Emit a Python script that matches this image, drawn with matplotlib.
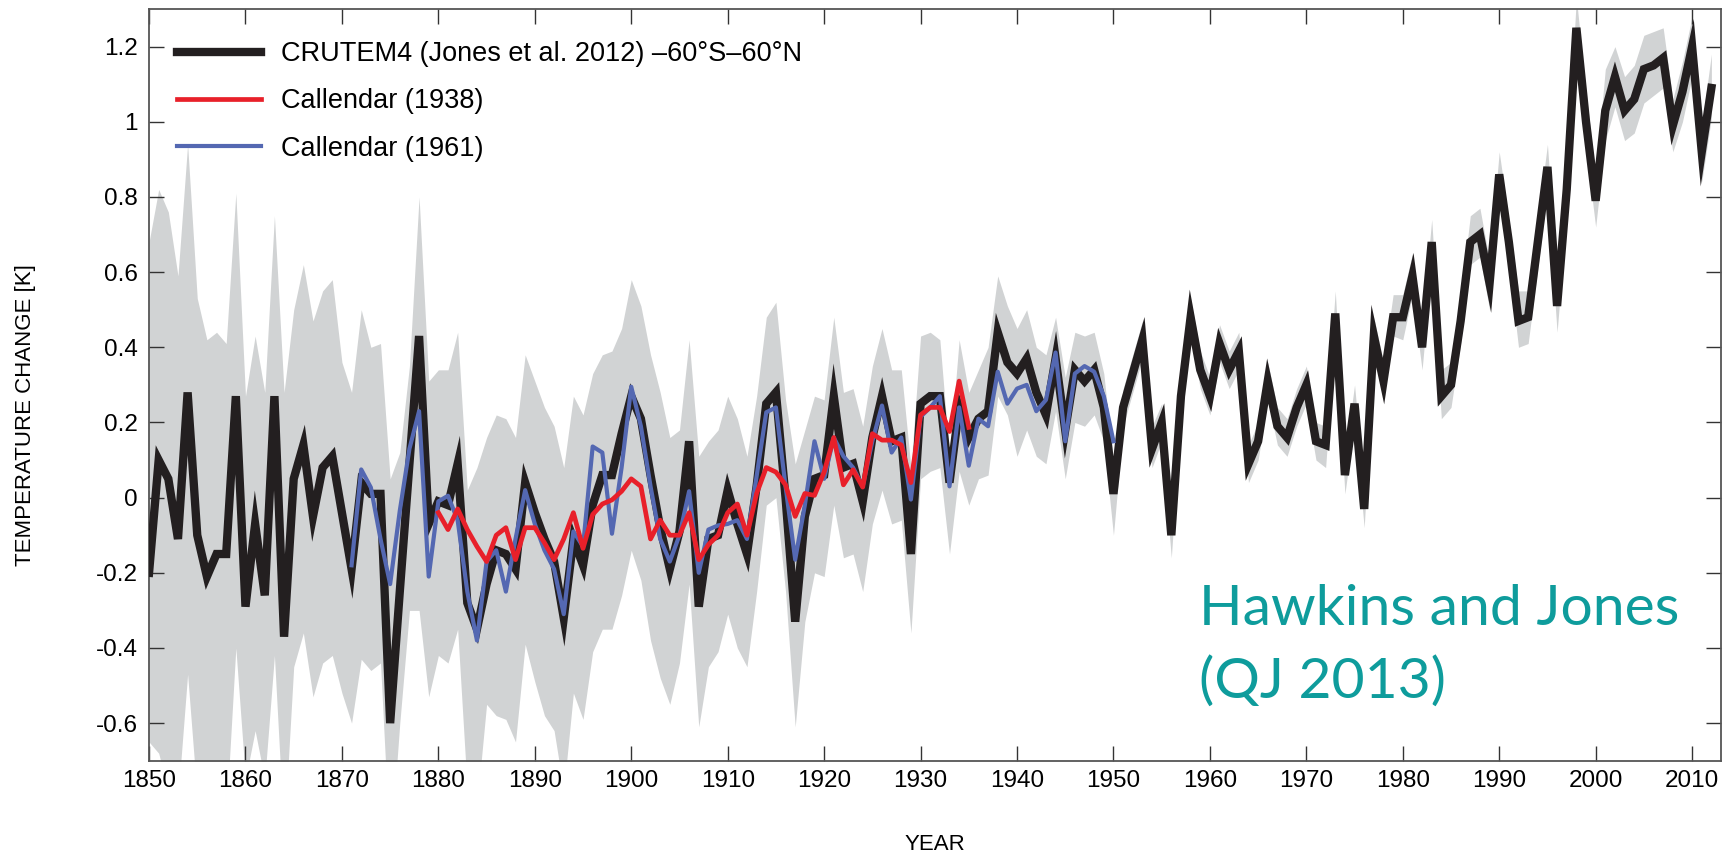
import numpy as np
import matplotlib
matplotlib.use("Agg")
import matplotlib.pyplot as plt

# CRUTEM4 annual anomaly (K), 1850-2012
years = np.arange(1850, 2013)
crutem4 = [
    -0.20, 0.10, 0.05, -0.11, 0.28, -0.10, -0.21, -0.15, -0.15, 0.27,   # 1850s
    -0.29, -0.07, -0.26, 0.27, -0.37, 0.05, 0.14, -0.05, 0.08, 0.11,    # 1860s
    -0.04, -0.19, 0.04, 0.01, 0.01, -0.60, -0.25, 0.09, 0.43, -0.07,    # 1870s
    -0.01, -0.02, 0.09, -0.28, -0.35, -0.23, -0.14, -0.15, -0.19, 0.04, # 1880s
    -0.04, -0.11, -0.17, -0.32, -0.11, -0.18, -0.02, 0.06, 0.06, 0.17,  # 1890s
    0.27, 0.21, 0.06, -0.08, -0.19, -0.09, 0.15, -0.29, -0.11, -0.10,   # 1900s
    0.02, -0.07, -0.15, 0.03, 0.25, 0.28, 0.00, -0.33, -0.05, 0.05,     # 1910s
    0.06, 0.27, 0.08, 0.09, -0.01, 0.16, 0.27, 0.15, 0.16, -0.15,       # 1920s
    0.25, 0.27, 0.27, 0.04, 0.24, 0.16, 0.21, 0.23, 0.44, 0.36,         # 1930s
    0.33, 0.37, 0.28, 0.22, 0.37, 0.18, 0.34, 0.31, 0.34, 0.24,         # 1940s
    0.01, 0.24, 0.33, 0.42, 0.13, 0.20, -0.10, 0.27, 0.48, 0.34,        # 1950s
    0.27, 0.41, 0.34, 0.39, 0.09, 0.15, 0.31, 0.19, 0.16, 0.24,         # 1960s
    0.30, 0.15, 0.14, 0.49, 0.06, 0.25, -0.03, 0.43, 0.31, 0.48,        # 1970s
    0.48, 0.59, 0.40, 0.68, 0.27, 0.30, 0.47, 0.68, 0.70, 0.57,         # 1980s
    0.86, 0.68, 0.47, 0.48, 0.68, 0.88, 0.51, 0.82, 1.25, 1.00,         # 1990s
    0.79, 1.03, 1.12, 1.03, 1.06, 1.14, 1.15, 1.17, 0.99, 1.08,         # 2000s
    1.20, 0.92, 1.09,                                                   # 2010-2012
]

# uncertainty range (upper / lower edge of grey band)
band_upper = [
    0.68, 0.82, 0.76, 0.59, 0.94, 0.53, 0.42, 0.44, 0.41, 0.81,
    0.27, 0.43, 0.28, 0.75, 0.28, 0.50, 0.62, 0.47, 0.55, 0.58,
    0.36, 0.28, 0.50, 0.40, 0.41, 0.05, 0.12, 0.35, 0.80, 0.31,
    0.34, 0.34, 0.44, 0.02, 0.08, 0.16, 0.22, 0.21, 0.16, 0.38,
    0.31, 0.24, 0.19, 0.08, 0.27, 0.22, 0.33, 0.38, 0.39, 0.45,
    0.58, 0.51, 0.38, 0.28, 0.16, 0.18, 0.42, 0.11, 0.15, 0.18,
    0.27, 0.21, 0.11, 0.27, 0.48, 0.52, 0.26, 0.09, 0.18, 0.27,
    0.26, 0.48, 0.28, 0.29, 0.19, 0.35, 0.45, 0.34, 0.34, 0.08,
    0.43, 0.44, 0.42, 0.11, 0.42, 0.28, 0.34, 0.40, 0.59, 0.51,
    0.45, 0.50, 0.40, 0.38, 0.48, 0.32, 0.44, 0.43, 0.44, 0.33,
    0.09, 0.29, 0.38, 0.47, 0.19, 0.25, -0.05, 0.32, 0.53, 0.39,
    0.32, 0.46, 0.39, 0.44, 0.14, 0.20, 0.36, 0.24, 0.21, 0.29,
    0.35, 0.20, 0.19, 0.55, 0.11, 0.30, 0.02, 0.48, 0.36, 0.54,
    0.54, 0.65, 0.46, 0.74, 0.34, 0.36, 0.53, 0.75, 0.77, 0.63,
    0.92, 0.74, 0.55, 0.55, 0.74, 0.94, 0.57, 0.88, 1.33, 1.08,
    0.86, 1.14, 1.20, 1.12, 1.15, 1.23, 1.24, 1.25, 1.06, 1.16,
    1.28, 0.99, 1.18,
]
band_lower = [
    -0.65, -0.68, -0.78, -0.80, -0.47, -0.80, -0.85, -0.80, -0.85, -0.40,
    -0.75, -0.62, -0.75, -0.42, -0.90, -0.45, -0.36, -0.53, -0.44, -0.42,
    -0.52, -0.60, -0.43, -0.46, -0.44, -0.95, -0.60, -0.30, -0.30, -0.53,
    -0.42, -0.44, -0.35, -0.78, -0.82, -0.55, -0.58, -0.59, -0.65, -0.39,
    -0.49, -0.58, -0.62, -0.78, -0.52, -0.59, -0.41, -0.35, -0.35, -0.26,
    -0.14, -0.22, -0.38, -0.48, -0.55, -0.44, -0.23, -0.61, -0.45, -0.41,
    -0.31, -0.40, -0.45, -0.25, -0.02, 0.00, -0.25, -0.61, -0.33, -0.20,
    -0.21, -0.02, -0.16, -0.15, -0.25, -0.07, 0.02, -0.07, -0.06, -0.36,
    0.05, 0.07, 0.08, -0.15, 0.07, -0.02, 0.05, 0.06, 0.27, 0.22,
    0.11, 0.18, 0.11, 0.09, 0.23, 0.05, 0.20, 0.19, 0.22, 0.15,
    -0.10, 0.19, 0.28, 0.37, 0.08, 0.15, -0.16, 0.22, 0.43, 0.29,
    0.22, 0.36, 0.29, 0.34, 0.04, 0.10, 0.26, 0.14, 0.11, 0.19,
    0.25, 0.10, 0.08, 0.44, 0.01, 0.20, -0.08, 0.38, 0.26, 0.43,
    0.42, 0.54, 0.34, 0.62, 0.21, 0.24, 0.41, 0.62, 0.64, 0.50,
    0.80, 0.62, 0.40, 0.41, 0.61, 0.81, 0.44, 0.75, 1.18, 0.93,
    0.72, 0.95, 1.04, 0.95, 0.97, 1.05, 1.07, 1.09, 0.92, 1.00,
    1.12, 0.84, 1.01,
]

# Callendar (1938), 1880-1935
years_c38 = np.arange(1880, 1936)
callendar_1938 = [
    -0.04, -0.085, -0.03, -0.085, -0.13, -0.17, -0.10, -0.08, -0.165, -0.08,
    -0.08, -0.12, -0.165, -0.11, -0.04, -0.135, -0.045, -0.017, -0.006, 0.017,
    0.05, 0.03, -0.11, -0.06, -0.10, -0.10, -0.04, -0.165, -0.125, -0.10,
    -0.04, -0.017, -0.10, 0.011, 0.08, 0.068, 0.034, -0.05, 0.011, 0.006,
    0.068, 0.16, 0.034, 0.074, 0.028, 0.17, 0.153, 0.153, 0.14, 0.04,
    0.22, 0.24, 0.24, 0.176, 0.31, 0.187,
]

# Callendar (1961), 1871-1950
years_c61 = np.arange(1871, 1951)
callendar_1961 = [
    -0.18, 0.075, 0.027, -0.11, -0.23, -0.035, 0.13, 0.23, -0.21, -0.01,
    0.005, -0.06, -0.25, -0.38, -0.17, -0.14, -0.25, -0.11, 0.02, -0.07,
    -0.14, -0.19, -0.31, -0.09, -0.13, 0.136, 0.12, -0.096, 0.08, 0.295,
    0.19, 0.03, -0.11, -0.17, -0.10, 0.017, -0.20, -0.085, -0.074, -0.07,
    -0.06, -0.11, 0.057, 0.227, 0.24, 0.03, -0.165, -0.02, 0.15, 0.05,
    0.16, 0.11, 0.08, 0.03, 0.15, 0.245, 0.12, 0.16, -0.005, 0.215,
    0.24, 0.27, 0.03, 0.24, 0.085, 0.21, 0.19, 0.335, 0.25, 0.29,
    0.30, 0.23, 0.26, 0.386, 0.15, 0.33, 0.35, 0.335, 0.27, 0.15,
]

xticks = np.arange(1850, 2011, 10)
yticks = [-0.6, -0.4, -0.2, 0, 0.2, 0.4, 0.6, 0.8, 1.0, 1.2]
ytick_labels = ["-0.6", "-0.4", "-0.2", "0", "0.2", "0.4", "0.6", "0.8", "1", "1.2"]

plt.rcParams["font.family"] = ["Liberation Sans", "DejaVu Sans"]

fig = plt.figure(figsize=(17.25, 8.59), dpi=100)
ax = fig.add_axes([0.0864, 0.1144, 0.9113, 0.8751])

ax.fill_between(years, band_lower, band_upper, color="#d1d3d4", lw=0, zorder=1)
ax.plot(years, crutem4, color="#231f20", lw=6, solid_joinstyle="miter",
        label="CRUTEM4 (Jones et al. 2012) \u201360\u00b0S\u201360\u00b0N", zorder=3)
ax.plot(years_c38, callendar_1938, color="#e8202a", lw=3.4,
        label="Callendar (1938)", zorder=5)
ax.plot(years_c61, callendar_1961, color="#5468b2", lw=3.0,
        label="Callendar (1961)", zorder=4)

ax.set_xlim(1850, 2013)
ax.set_ylim(-0.7, 1.3)
ax.set_xticks(xticks)
ax.set_yticks(yticks)
ax.set_yticklabels(ytick_labels)
ax.tick_params(direction="in", length=11, width=1.0, color="#333333",
               top=True, right=True, labelsize=17.5)
ax.tick_params(axis="x", pad=7)
ax.tick_params(axis="y", pad=8)
for s in ax.spines.values():
    s.set_linewidth(1.3)
    s.set_color("#555555")

# axis titles placed in figure pixels
fig.text(935 / 1725, 1 - 845 / 859, "YEAR", fontsize=16, ha="center", va="center")
fig.text(26 / 1725, 1 - 415 / 859, "TEMPERATURE CHANGE [K]", fontsize=16,
         rotation=90, ha="center", va="center")

leg = ax.legend(loc="upper left", bbox_to_anchor=(0.0178, 0.957), frameon=False,
                fontsize=19.5, handlelength=3.1, handletextpad=0.75,
                labelspacing=0.78, borderpad=0, borderaxespad=0)

fig.text(1199 / 1725, 1 - 625 / 859, "Hawkins and Jones", fontsize=41,
         color="#0e9c9c", family=["Lato", "DejaVu Sans"], va="baseline")
fig.text(1199 / 1725, 1 - 698 / 859, "(QJ 2013)", fontsize=41,
         color="#0e9c9c", family=["Lato", "DejaVu Sans"], va="baseline")

fig.savefig("out.png", dpi=100)
